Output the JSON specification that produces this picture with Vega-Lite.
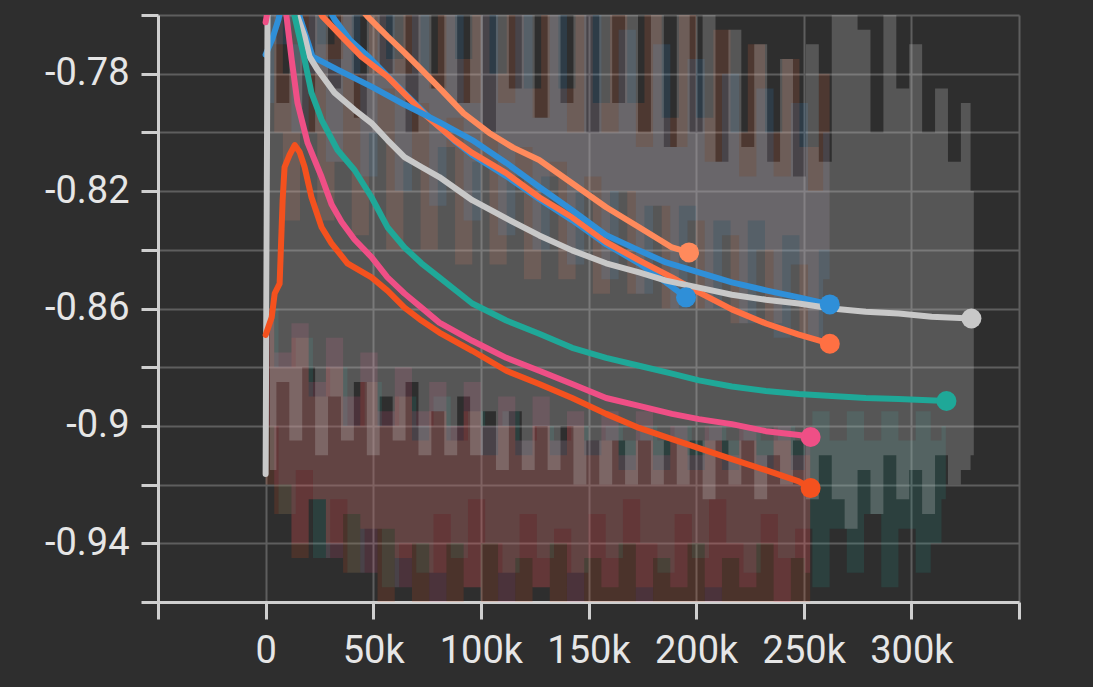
{
"$schema": "https://vega.github.io/schema/vega-lite/v6.json",
"width": 861, "height": 587,
"autosize": "none",
"padding": {"left": 158, "top": 15, "right": 74, "bottom": 85},
"background": "#2e2e2e",
"config": {"view": {"stroke": null}, "font": "Roboto"},
"datasets": {
"smooth": [
{"s":"run1","x":0,"y":-0.7735},{"s":"run1","x":3000,"y":-0.7684},{"s":"run1","x":6000,"y":-0.7615},{"s":"run1","x":10000,"y":-0.745},{"s":"run1","x":25000,"y":-0.752},{"s":"run1","x":32000,"y":-0.7615},{"s":"run1","x":39000,"y":-0.7684},{"s":"run1","x":48200,"y":-0.7745},{"s":"run1","x":57500,"y":-0.7814},{"s":"run1","x":66800,"y":-0.7882},{"s":"run1","x":76100,"y":-0.795},{"s":"run1","x":87700,"y":-0.8029},{"s":"run1","x":96000,"y":-0.8077},{"s":"run1","x":111800,"y":-0.8149},{"s":"run1","x":127100,"y":-0.8227},{"s":"run1","x":142400,"y":-0.8299},{"s":"run1","x":158200,"y":-0.8381},{"s":"run1","x":173500,"y":-0.8446},{"s":"run1","x":186000,"y":-0.8511},{"s":"run1","x":195300,"y":-0.8562},
{"s":"run2","x":0,"y":-0.74},{"s":"run2","x":30000,"y":-0.745},{"s":"run2","x":47300,"y":-0.7605},{"s":"run2","x":56600,"y":-0.7673},{"s":"run2","x":64500,"y":-0.7728},{"s":"run2","x":72400,"y":-0.7786},{"s":"run2","x":81600,"y":-0.7855},{"s":"run2","x":92000,"y":-0.7935},{"s":"run2","x":103900,"y":-0.8002},{"s":"run2","x":115000,"y":-0.8052},{"s":"run2","x":127100,"y":-0.8094},{"s":"run2","x":142400,"y":-0.8173},{"s":"run2","x":158200,"y":-0.8255},{"s":"run2","x":173500,"y":-0.8323},{"s":"run2","x":188800,"y":-0.8392},{"s":"run2","x":196700,"y":-0.8409},
{"s":"run3","x":0,"y":-0.74},{"s":"run3","x":15000,"y":-0.745},{"s":"run3","x":26400,"y":-0.7605},{"s":"run3","x":35300,"y":-0.7673},{"s":"run3","x":44500,"y":-0.7742},{"s":"run3","x":56600,"y":-0.781},{"s":"run3","x":65900,"y":-0.7879},{"s":"run3","x":75100,"y":-0.7947},{"s":"run3","x":87700,"y":-0.8026},{"s":"run3","x":96000,"y":-0.807},{"s":"run3","x":111800,"y":-0.8139},{"s":"run3","x":127100,"y":-0.8221},{"s":"run3","x":142400,"y":-0.8289},{"s":"run3","x":158200,"y":-0.8374},{"s":"run3","x":173500,"y":-0.8436},{"s":"run3","x":188800,"y":-0.8494},{"s":"run3","x":201300,"y":-0.8545},{"s":"run3","x":216600,"y":-0.8603},{"s":"run3","x":232400,"y":-0.8651},{"s":"run3","x":247700,"y":-0.8689},{"s":"run3","x":262100,"y":-0.872},
{"s":"run4","x":0,"y":-0.74},{"s":"run4","x":12000,"y":-0.745},{"s":"run4","x":15800,"y":-0.7605},{"s":"run4","x":21800,"y":-0.7742},{"s":"run4","x":33400,"y":-0.7786},{"s":"run4","x":49200,"y":-0.7844},{"s":"run4","x":64500,"y":-0.7905},{"s":"run4","x":80700,"y":-0.7965},{"s":"run4","x":96000,"y":-0.8026},{"s":"run4","x":111800,"y":-0.8104},{"s":"run4","x":127100,"y":-0.8186},{"s":"run4","x":142400,"y":-0.8265},{"s":"run4","x":158200,"y":-0.835},{"s":"run4","x":173500,"y":-0.8402},{"s":"run4","x":186000,"y":-0.8443},{"s":"run4","x":201300,"y":-0.8477},{"s":"run4","x":216600,"y":-0.8511},{"s":"run4","x":232400,"y":-0.8538},{"s":"run4","x":247700,"y":-0.8562},{"s":"run4","x":262100,"y":-0.8586},
{"s":"run5","x":0,"y":-0.9164},{"s":"run5","x":1000,"y":-0.74},{"s":"run5","x":10000,"y":-0.74},{"s":"run5","x":14800,"y":-0.7605},{"s":"run5","x":18100,"y":-0.7673},{"s":"run5","x":20400,"y":-0.7742},{"s":"run5","x":24100,"y":-0.7786},{"s":"run5","x":32000,"y":-0.7865},{"s":"run5","x":41300,"y":-0.7923},{"s":"run5","x":49200,"y":-0.7968},{"s":"run5","x":56600,"y":-0.8026},{"s":"run5","x":64500,"y":-0.8084},{"s":"run5","x":72400,"y":-0.8118},{"s":"run5","x":80700,"y":-0.8152},{"s":"run5","x":96000,"y":-0.8231},{"s":"run5","x":111800,"y":-0.8293},{"s":"run5","x":127100,"y":-0.8351},{"s":"run5","x":142400,"y":-0.8402},{"s":"run5","x":158200,"y":-0.8446},{"s":"run5","x":173500,"y":-0.8477},{"s":"run5","x":186000,"y":-0.8505},{"s":"run5","x":201300,"y":-0.8529},{"s":"run5","x":216600,"y":-0.8553},{"s":"run5","x":232400,"y":-0.857},{"s":"run5","x":247700,"y":-0.8583},{"s":"run5","x":263000,"y":-0.86},{"s":"run5","x":278800,"y":-0.8611},{"s":"run5","x":294100,"y":-0.8617},{"s":"run5","x":309400,"y":-0.8628},{"s":"run5","x":327900,"y":-0.8634},
{"s":"run6","x":0,"y":-0.74},{"s":"run6","x":10000,"y":-0.745},{"s":"run6","x":13500,"y":-0.7605},{"s":"run6","x":18100,"y":-0.7752},{"s":"run6","x":21300,"y":-0.7865},{"s":"run6","x":26000,"y":-0.7957},{"s":"run6","x":33400,"y":-0.806},{"s":"run6","x":41300,"y":-0.8128},{"s":"run6","x":49200,"y":-0.8221},{"s":"run6","x":56600,"y":-0.8323},{"s":"run6","x":64500,"y":-0.8392},{"s":"run6","x":72400,"y":-0.8446},{"s":"run6","x":80700,"y":-0.8494},{"s":"run6","x":96000,"y":-0.8583},{"s":"run6","x":111800,"y":-0.8641},{"s":"run6","x":127100,"y":-0.8686},{"s":"run6","x":142400,"y":-0.8734},{"s":"run6","x":158200,"y":-0.8768},{"s":"run6","x":173500,"y":-0.8795},{"s":"run6","x":188800,"y":-0.8822},{"s":"run6","x":201300,"y":-0.8845},{"s":"run6","x":216600,"y":-0.8866},{"s":"run6","x":232400,"y":-0.8881},{"s":"run6","x":247700,"y":-0.8891},{"s":"run6","x":263000,"y":-0.8898},{"s":"run6","x":278800,"y":-0.8905},{"s":"run6","x":294100,"y":-0.8908},{"s":"run6","x":316300,"y":-0.8915},
{"s":"run7","x":0,"y":-0.7625},{"s":"run7","x":3000,"y":-0.75},{"s":"run7","x":7000,"y":-0.745},{"s":"run7","x":9700,"y":-0.7605},{"s":"run7","x":12100,"y":-0.7752},{"s":"run7","x":14800,"y":-0.7899},{"s":"run7","x":19500,"y":-0.8036},{"s":"run7","x":26000,"y":-0.8152},{"s":"run7","x":30600,"y":-0.8245},{"s":"run7","x":35300,"y":-0.8305},{"s":"run7","x":41300,"y":-0.8365},{"s":"run7","x":49200,"y":-0.8425},{"s":"run7","x":56600,"y":-0.8494},{"s":"run7","x":64500,"y":-0.8549},{"s":"run7","x":72400,"y":-0.8597},{"s":"run7","x":80700,"y":-0.8648},{"s":"run7","x":96000,"y":-0.871},{"s":"run7","x":111800,"y":-0.8768},{"s":"run7","x":127100,"y":-0.8812},{"s":"run7","x":142400,"y":-0.8857},{"s":"run7","x":158200,"y":-0.8905},{"s":"run7","x":173500,"y":-0.8932},{"s":"run7","x":188800,"y":-0.8959},{"s":"run7","x":201300,"y":-0.8977},{"s":"run7","x":216600,"y":-0.8994},{"s":"run7","x":232400,"y":-0.9018},{"s":"run7","x":247700,"y":-0.9031},{"s":"run7","x":253200,"y":-0.9038},
{"s":"run8","x":0,"y":-0.869},{"s":"run8","x":2800,"y":-0.8631},{"s":"run8","x":4200,"y":-0.8549},{"s":"run8","x":6500,"y":-0.8515},{"s":"run8","x":7900,"y":-0.8231},{"s":"run8","x":8800,"y":-0.8118},{"s":"run8","x":11100,"y":-0.8077},{"s":"run8","x":13500,"y":-0.8043},{"s":"run8","x":15800,"y":-0.8067},{"s":"run8","x":18100,"y":-0.8118},{"s":"run8","x":21300,"y":-0.8221},{"s":"run8","x":26000,"y":-0.8323},{"s":"run8","x":30600,"y":-0.8378},{"s":"run8","x":38000,"y":-0.8446},{"s":"run8","x":49200,"y":-0.8494},{"s":"run8","x":56600,"y":-0.8539},{"s":"run8","x":64500,"y":-0.8597},{"s":"run8","x":72400,"y":-0.8641},{"s":"run8","x":80700,"y":-0.8682},{"s":"run8","x":96000,"y":-0.8744},{"s":"run8","x":111800,"y":-0.8812},{"s":"run8","x":127100,"y":-0.8857},{"s":"run8","x":142400,"y":-0.8905},{"s":"run8","x":158200,"y":-0.8959},{"s":"run8","x":173500,"y":-0.9007},{"s":"run8","x":188800,"y":-0.9045},{"s":"run8","x":201300,"y":-0.9076},{"s":"run8","x":216600,"y":-0.9113},{"s":"run8","x":232400,"y":-0.9151},{"s":"run8","x":247700,"y":-0.9189},{"s":"run8","x":253200,"y":-0.9212}
],
"raw": [
{"s":"run6","x":2000,"hi":-0.86,"lo":-0.9},{"s":"run6","x":10000,"hi":-0.88,"lo":-0.93},{"s":"run6","x":18000,"hi":-0.87,"lo":-0.915},{"s":"run6","x":26000,"hi":-0.89,"lo":-0.945},{"s":"run6","x":34000,"hi":-0.88,"lo":-0.925},{"s":"run6","x":42000,"hi":-0.9,"lo":-0.95},{"s":"run6","x":50000,"hi":-0.885,"lo":-0.935},{"s":"run6","x":58000,"hi":-0.9,"lo":-0.955},{"s":"run6","x":66000,"hi":-0.89,"lo":-0.94},{"s":"run6","x":74000,"hi":-0.9,"lo":-0.95},{"s":"run6","x":82000,"hi":-0.89,"lo":-0.93},{"s":"run6","x":90000,"hi":-0.905,"lo":-0.945},{"s":"run6","x":98000,"hi":-0.895,"lo":-0.925},{"s":"run6","x":106000,"hi":-0.9,"lo":-0.94},{"s":"run6","x":114000,"hi":-0.895,"lo":-0.95},{"s":"run6","x":122000,"hi":-0.905,"lo":-0.93},{"s":"run6","x":130000,"hi":-0.9,"lo":-0.945},{"s":"run6","x":138000,"hi":-0.905,"lo":-0.935},{"s":"run6","x":146000,"hi":-0.9,"lo":-0.95},{"s":"run6","x":154000,"hi":-0.905,"lo":-0.93},{"s":"run6","x":162000,"hi":-0.9,"lo":-0.945},{"s":"run6","x":170000,"hi":-0.905,"lo":-0.925},{"s":"run6","x":178000,"hi":-0.9,"lo":-0.94},{"s":"run6","x":186000,"hi":-0.905,"lo":-0.95},{"s":"run6","x":194000,"hi":-0.9,"lo":-0.93},{"s":"run6","x":202000,"hi":-0.905,"lo":-0.945},{"s":"run6","x":210000,"hi":-0.9,"lo":-0.925},{"s":"run6","x":218000,"hi":-0.905,"lo":-0.94},{"s":"run6","x":226000,"hi":-0.9,"lo":-0.95},{"s":"run6","x":234000,"hi":-0.905,"lo":-0.93},{"s":"run6","x":242000,"hi":-0.9,"lo":-0.945},{"s":"run6","x":250000,"hi":-0.905,"lo":-0.935},{"s":"run6","x":258000,"hi":-0.895,"lo":-0.955},{"s":"run6","x":266000,"hi":-0.905,"lo":-0.935},{"s":"run6","x":274000,"hi":-0.895,"lo":-0.95},{"s":"run6","x":282000,"hi":-0.905,"lo":-0.93},{"s":"run6","x":290000,"hi":-0.895,"lo":-0.955},{"s":"run6","x":298000,"hi":-0.905,"lo":-0.935},{"s":"run6","x":306000,"hi":-0.895,"lo":-0.95},{"s":"run6","x":312000,"hi":-0.905,"lo":-0.94},{"s":"run6","x":316000,"hi":-0.9,"lo":-0.925},
{"s":"run8","x":0,"hi":-0.86,"lo":-0.92},{"s":"run8","x":8000,"hi":-0.88,"lo":-0.93},{"s":"run8","x":16000,"hi":-0.87,"lo":-0.945},{"s":"run8","x":24000,"hi":-0.89,"lo":-0.925},{"s":"run8","x":32000,"hi":-0.88,"lo":-0.94},{"s":"run8","x":40000,"hi":-0.9,"lo":-0.95},{"s":"run8","x":48000,"hi":-0.885,"lo":-0.935},{"s":"run8","x":56000,"hi":-0.9,"lo":-0.965},{"s":"run8","x":64000,"hi":-0.89,"lo":-0.945},{"s":"run8","x":72000,"hi":-0.905,"lo":-0.97},{"s":"run8","x":80000,"hi":-0.895,"lo":-0.95},{"s":"run8","x":88000,"hi":-0.905,"lo":-0.97},{"s":"run8","x":96000,"hi":-0.895,"lo":-0.955},{"s":"run8","x":104000,"hi":-0.91,"lo":-0.97},{"s":"run8","x":112000,"hi":-0.9,"lo":-0.95},{"s":"run8","x":120000,"hi":-0.91,"lo":-0.97},{"s":"run8","x":128000,"hi":-0.9,"lo":-0.955},{"s":"run8","x":136000,"hi":-0.91,"lo":-0.97},{"s":"run8","x":144000,"hi":-0.9,"lo":-0.95},{"s":"run8","x":152000,"hi":-0.91,"lo":-0.97},{"s":"run8","x":160000,"hi":-0.905,"lo":-0.96},{"s":"run8","x":168000,"hi":-0.915,"lo":-0.97},{"s":"run8","x":176000,"hi":-0.905,"lo":-0.955},{"s":"run8","x":184000,"hi":-0.915,"lo":-0.97},{"s":"run8","x":192000,"hi":-0.905,"lo":-0.96},{"s":"run8","x":200000,"hi":-0.915,"lo":-0.97},{"s":"run8","x":208000,"hi":-0.905,"lo":-0.955},{"s":"run8","x":216000,"hi":-0.915,"lo":-0.97},{"s":"run8","x":224000,"hi":-0.905,"lo":-0.96},{"s":"run8","x":232000,"hi":-0.915,"lo":-0.97},{"s":"run8","x":240000,"hi":-0.905,"lo":-0.96},{"s":"run8","x":248000,"hi":-0.915,"lo":-0.97},{"s":"run8","x":253000,"hi":-0.91,"lo":-0.965},
{"s":"run7","x":0,"hi":-0.86,"lo":-0.9},{"s":"run7","x":8000,"hi":-0.875,"lo":-0.92},{"s":"run7","x":16000,"hi":-0.865,"lo":-0.94},{"s":"run7","x":24000,"hi":-0.885,"lo":-0.925},{"s":"run7","x":32000,"hi":-0.87,"lo":-0.945},{"s":"run7","x":40000,"hi":-0.89,"lo":-0.93},{"s":"run7","x":48000,"hi":-0.875,"lo":-0.95},{"s":"run7","x":56000,"hi":-0.895,"lo":-0.935},{"s":"run7","x":64000,"hi":-0.88,"lo":-0.955},{"s":"run7","x":72000,"hi":-0.895,"lo":-0.94},{"s":"run7","x":80000,"hi":-0.885,"lo":-0.96},{"s":"run7","x":88000,"hi":-0.9,"lo":-0.94},{"s":"run7","x":96000,"hi":-0.885,"lo":-0.955},{"s":"run7","x":104000,"hi":-0.9,"lo":-0.94},{"s":"run7","x":112000,"hi":-0.89,"lo":-0.96},{"s":"run7","x":120000,"hi":-0.905,"lo":-0.945},{"s":"run7","x":128000,"hi":-0.89,"lo":-0.955},{"s":"run7","x":136000,"hi":-0.905,"lo":-0.94},{"s":"run7","x":144000,"hi":-0.895,"lo":-0.96},{"s":"run7","x":152000,"hi":-0.905,"lo":-0.945},{"s":"run7","x":160000,"hi":-0.895,"lo":-0.955},{"s":"run7","x":168000,"hi":-0.91,"lo":-0.94},{"s":"run7","x":176000,"hi":-0.895,"lo":-0.96},{"s":"run7","x":184000,"hi":-0.91,"lo":-0.945},{"s":"run7","x":192000,"hi":-0.9,"lo":-0.955},{"s":"run7","x":200000,"hi":-0.91,"lo":-0.94},{"s":"run7","x":208000,"hi":-0.9,"lo":-0.96},{"s":"run7","x":216000,"hi":-0.91,"lo":-0.945},{"s":"run7","x":224000,"hi":-0.9,"lo":-0.955},{"s":"run7","x":232000,"hi":-0.91,"lo":-0.94},{"s":"run7","x":240000,"hi":-0.9,"lo":-0.96},{"s":"run7","x":248000,"hi":-0.91,"lo":-0.945},{"s":"run7","x":253000,"hi":-0.905,"lo":-0.95},
{"s":"run3","x":4000,"hi":-0.74,"lo":-0.8},{"s":"run3","x":12000,"hi":-0.78,"lo":-0.83},{"s":"run3","x":20000,"hi":-0.74,"lo":-0.8},{"s":"run3","x":28000,"hi":-0.77,"lo":-0.83},{"s":"run3","x":36000,"hi":-0.74,"lo":-0.81},{"s":"run3","x":44000,"hi":-0.78,"lo":-0.835},{"s":"run3","x":52000,"hi":-0.74,"lo":-0.8},{"s":"run3","x":60000,"hi":-0.775,"lo":-0.84},{"s":"run3","x":68000,"hi":-0.74,"lo":-0.81},{"s":"run3","x":76000,"hi":-0.78,"lo":-0.84},{"s":"run3","x":84000,"hi":-0.745,"lo":-0.805},{"s":"run3","x":92000,"hi":-0.775,"lo":-0.845},{"s":"run3","x":100000,"hi":-0.74,"lo":-0.81},{"s":"run3","x":108000,"hi":-0.78,"lo":-0.845},{"s":"run3","x":116000,"hi":-0.745,"lo":-0.815},{"s":"run3","x":124000,"hi":-0.785,"lo":-0.85},{"s":"run3","x":132000,"hi":-0.745,"lo":-0.815},{"s":"run3","x":140000,"hi":-0.785,"lo":-0.85},{"s":"run3","x":148000,"hi":-0.75,"lo":-0.82},{"s":"run3","x":156000,"hi":-0.79,"lo":-0.855},{"s":"run3","x":164000,"hi":-0.75,"lo":-0.82},{"s":"run3","x":172000,"hi":-0.79,"lo":-0.855},{"s":"run3","x":180000,"hi":-0.755,"lo":-0.825},{"s":"run3","x":188000,"hi":-0.795,"lo":-0.86},{"s":"run3","x":196000,"hi":-0.76,"lo":-0.825},{"s":"run3","x":204000,"hi":-0.795,"lo":-0.86},{"s":"run3","x":212000,"hi":-0.765,"lo":-0.83},{"s":"run3","x":220000,"hi":-0.8,"lo":-0.865},{"s":"run3","x":228000,"hi":-0.77,"lo":-0.83},{"s":"run3","x":236000,"hi":-0.8,"lo":-0.865},{"s":"run3","x":244000,"hi":-0.775,"lo":-0.835},{"s":"run3","x":252000,"hi":-0.805,"lo":-0.87},{"s":"run3","x":262000,"hi":-0.78,"lo":-0.84},
{"s":"run4","x":0,"hi":-0.745,"lo":-0.79},{"s":"run4","x":8000,"hi":-0.74,"lo":-0.77},{"s":"run4","x":16000,"hi":-0.77,"lo":-0.8},{"s":"run4","x":24000,"hi":-0.74,"lo":-0.78},{"s":"run4","x":32000,"hi":-0.775,"lo":-0.81},{"s":"run4","x":40000,"hi":-0.74,"lo":-0.78},{"s":"run4","x":48000,"hi":-0.78,"lo":-0.815},{"s":"run4","x":56000,"hi":-0.74,"lo":-0.785},{"s":"run4","x":64000,"hi":-0.78,"lo":-0.82},{"s":"run4","x":72000,"hi":-0.745,"lo":-0.79},{"s":"run4","x":80000,"hi":-0.785,"lo":-0.825},{"s":"run4","x":88000,"hi":-0.745,"lo":-0.795},{"s":"run4","x":96000,"hi":-0.79,"lo":-0.83},{"s":"run4","x":104000,"hi":-0.75,"lo":-0.8},{"s":"run4","x":112000,"hi":-0.79,"lo":-0.835},{"s":"run4","x":120000,"hi":-0.75,"lo":-0.805},{"s":"run4","x":128000,"hi":-0.795,"lo":-0.84},{"s":"run4","x":136000,"hi":-0.755,"lo":-0.81},{"s":"run4","x":144000,"hi":-0.8,"lo":-0.845},{"s":"run4","x":152000,"hi":-0.76,"lo":-0.815},{"s":"run4","x":160000,"hi":-0.8,"lo":-0.85},{"s":"run4","x":168000,"hi":-0.765,"lo":-0.82},{"s":"run4","x":176000,"hi":-0.805,"lo":-0.855},{"s":"run4","x":184000,"hi":-0.77,"lo":-0.825},{"s":"run4","x":192000,"hi":-0.805,"lo":-0.86},{"s":"run4","x":200000,"hi":-0.775,"lo":-0.83},{"s":"run4","x":208000,"hi":-0.81,"lo":-0.86},{"s":"run4","x":216000,"hi":-0.78,"lo":-0.835},{"s":"run4","x":224000,"hi":-0.815,"lo":-0.865},{"s":"run4","x":232000,"hi":-0.785,"lo":-0.84},{"s":"run4","x":240000,"hi":-0.815,"lo":-0.87},{"s":"run4","x":248000,"hi":-0.79,"lo":-0.845},{"s":"run4","x":256000,"hi":-0.82,"lo":-0.87},{"s":"run4","x":262000,"hi":-0.8,"lo":-0.85},
{"s":"run5","x":2000,"hi":-0.74,"lo":-0.915},{"s":"run5","x":8000,"hi":-0.79,"lo":-0.885},{"s":"run5","x":14000,"hi":-0.74,"lo":-0.905},{"s":"run5","x":20000,"hi":-0.8,"lo":-0.88},{"s":"run5","x":26000,"hi":-0.745,"lo":-0.91},{"s":"run5","x":32000,"hi":-0.785,"lo":-0.89},{"s":"run5","x":38000,"hi":-0.74,"lo":-0.905},{"s":"run5","x":44000,"hi":-0.795,"lo":-0.885},{"s":"run5","x":50000,"hi":-0.745,"lo":-0.91},{"s":"run5","x":56000,"hi":-0.78,"lo":-0.89},{"s":"run5","x":62000,"hi":-0.74,"lo":-0.905},{"s":"run5","x":68000,"hi":-0.8,"lo":-0.885},{"s":"run5","x":74000,"hi":-0.745,"lo":-0.91},{"s":"run5","x":80000,"hi":-0.785,"lo":-0.895},{"s":"run5","x":86000,"hi":-0.74,"lo":-0.91},{"s":"run5","x":92000,"hi":-0.79,"lo":-0.89},{"s":"run5","x":98000,"hi":-0.745,"lo":-0.91},{"s":"run5","x":104000,"hi":-0.8,"lo":-0.895},{"s":"run5","x":110000,"hi":-0.74,"lo":-0.915},{"s":"run5","x":116000,"hi":-0.785,"lo":-0.895},{"s":"run5","x":122000,"hi":-0.745,"lo":-0.915},{"s":"run5","x":128000,"hi":-0.795,"lo":-0.9},{"s":"run5","x":134000,"hi":-0.74,"lo":-0.915},{"s":"run5","x":140000,"hi":-0.79,"lo":-0.9},{"s":"run5","x":146000,"hi":-0.745,"lo":-0.92},{"s":"run5","x":152000,"hi":-0.8,"lo":-0.905},{"s":"run5","x":158000,"hi":-0.75,"lo":-0.92},{"s":"run5","x":164000,"hi":-0.79,"lo":-0.905},{"s":"run5","x":170000,"hi":-0.745,"lo":-0.92},{"s":"run5","x":176000,"hi":-0.8,"lo":-0.905},{"s":"run5","x":182000,"hi":-0.75,"lo":-0.92},{"s":"run5","x":188000,"hi":-0.805,"lo":-0.905},{"s":"run5","x":194000,"hi":-0.755,"lo":-0.92},{"s":"run5","x":200000,"hi":-0.8,"lo":-0.905},{"s":"run5","x":206000,"hi":-0.76,"lo":-0.925},{"s":"run5","x":212000,"hi":-0.81,"lo":-0.905},{"s":"run5","x":218000,"hi":-0.765,"lo":-0.92},{"s":"run5","x":224000,"hi":-0.805,"lo":-0.905},{"s":"run5","x":230000,"hi":-0.77,"lo":-0.925},{"s":"run5","x":236000,"hi":-0.81,"lo":-0.91},{"s":"run5","x":242000,"hi":-0.775,"lo":-0.92},{"s":"run5","x":248000,"hi":-0.815,"lo":-0.905},{"s":"run5","x":254000,"hi":-0.77,"lo":-0.925},{"s":"run5","x":260000,"hi":-0.81,"lo":-0.91},{"s":"run5","x":266000,"hi":-0.76,"lo":-0.925},{"s":"run5","x":272000,"hi":-0.745,"lo":-0.935},{"s":"run5","x":278000,"hi":-0.765,"lo":-0.915},{"s":"run5","x":284000,"hi":-0.8,"lo":-0.93},{"s":"run5","x":290000,"hi":-0.75,"lo":-0.91},{"s":"run5","x":296000,"hi":-0.785,"lo":-0.925},{"s":"run5","x":302000,"hi":-0.77,"lo":-0.915},{"s":"run5","x":308000,"hi":-0.8,"lo":-0.93},{"s":"run5","x":314000,"hi":-0.785,"lo":-0.91},{"s":"run5","x":320000,"hi":-0.81,"lo":-0.92},{"s":"run5","x":326000,"hi":-0.79,"lo":-0.915},{"s":"run5","x":329000,"hi":-0.82,"lo":-0.91}
]
},
"encoding": {
  "x": {"field": "x", "type": "quantitative",
    "scale": {"domain": [-50000, 350000], "nice": false, "zero": false},
    "axis": {"title": null, "values": [-50000,0,50000,100000,150000,200000,250000,300000,350000],
      "labelExpr": "datum.value < 0 || datum.value > 300000 ? '' : (datum.value == 0 ? '0' : (datum.value/1000) + 'k')",
      "labelFont": "Roboto", "labelFontSize": 38, "labelColor": "#e6e6e6", "labelPadding": 13,
      "labelOverlap": false, "labelFlush": false,
      "domainColor": "#cfcfcf", "domainWidth": 3, "tickColor": "#cfcfcf", "tickWidth": 3, "tickSize": 17,
      "gridColor": "#5e5e5e", "gridWidth": 2}},
  "y": {"field": "y", "type": "quantitative",
    "scale": {"domain": [-0.96, -0.76], "nice": false, "zero": false},
    "axis": {"title": null, "values": [-0.96,-0.94,-0.92,-0.9,-0.88,-0.86,-0.84,-0.82,-0.8,-0.78,-0.76],
      "labelExpr": "abs(round(datum.value*100)) % 4 == 2 ? '-' + format(abs(datum.value), '~g') : ''",
      "labelFont": "Roboto", "labelFontSize": 38, "labelColor": "#e6e6e6", "labelPadding": 12,
      "labelOverlap": false, "labelFlush": false,
      "domainColor": "#cfcfcf", "domainWidth": 3, "tickColor": "#cfcfcf", "tickWidth": 3, "tickSize": 17,
      "gridColor": "#5e5e5e", "gridWidth": 2}},
  "color": {"field": "s", "type": "nominal", "legend": null,
    "scale": {"domain": ["run1","run2","run3","run4","run5","run6","run7","run8"],
      "range": ["#2f8fd8","#ff8a5c","#ff7043","#2f8fd8","#c8c8c8","#1fa898","#ef4f86","#f4511e"]}}
},
"layer": [
  {"data": {"name": "raw"}, "transform": [{"filter": "datum.s != 'run5'"}],
   "mark": {"type": "area", "interpolate": "step", "opacity": 0.15, "clip": true},
   "encoding": {"y": {"field": "hi"}, "y2": {"field": "lo"}}},
  {"data": {"name": "raw"}, "transform": [{"filter": "datum.s == 'run5'"}],
   "mark": {"type": "area", "interpolate": "step", "opacity": 0.26, "clip": true},
   "encoding": {"y": {"field": "hi"}, "y2": {"field": "lo"}}},
  {"data": {"name": "smooth"}, "mark": {"type": "line", "strokeWidth": 6, "clip": true, "strokeJoin": "round", "strokeCap": "round"}},
  {"data": {"name": "smooth"}, "mark": {"type": "circle", "opacity": 1, "clip": true},
   "encoding": {"x": {"field": "x", "aggregate": "max"}, "y": {"field": "y", "aggregate": {"argmax": "x"}}, "size": {"value": 400}}}
]
}
